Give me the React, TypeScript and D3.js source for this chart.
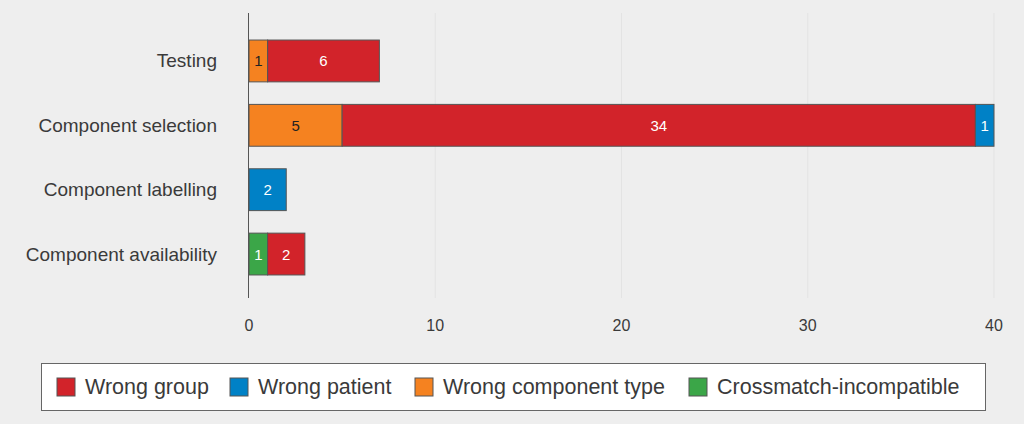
import React, { useMemo } from "react";
import * as d3 from "d3";

const WIDTH = 1024;
const HEIGHT = 424;
const FONT = "'Liberation Sans', Arial, Helvetica, sans-serif";

// categories, top to bottom
const categories = [
  "Testing",
  "Component selection",
  "Component labelling",
  "Component availability",
];

// series in stacking order (left to right inside a bar)
const crossmatch = [0, 0, 0, 1];
const wrongType = [1, 5, 0, 0];
const wrongGroup = [6, 34, 0, 2];
const wrongPatient = [0, 1, 2, 0];

const xTicks = [0, 10, 20, 30, 40];

const SERIES = [
  { key: "crossmatch", name: "Crossmatch-incompatible", values: crossmatch, color: "#3ba648", text: "#ffffff" },
  { key: "type", name: "Wrong component type", values: wrongType, color: "#f58220", text: "#222222" },
  { key: "group", name: "Wrong group", values: wrongGroup, color: "#d2232a", text: "#ffffff" },
  { key: "patient", name: "Wrong patient", values: wrongPatient, color: "#0081c6", text: "#ffffff" },
];

// legend order as in the original
const legendOrder = ["group", "patient", "type", "crossmatch"];

export default function App() {
  const xScale = useMemo(
    () => d3.scaleLinear().domain([0, 40]).range([249, 994]),
    []
  );
  const yScale = useMemo(
    () => d3.scaleBand().domain(categories).range([17.5, 297.5]).padding(0.35),
    []
  );

  const rows = categories.map((c, i) => {
    const row: any = { category: c };
    SERIES.forEach((s) => (row[s.key] = s.values[i]));
    return row;
  });
  const stacked = d3.stack<any>().keys(SERIES.map((s) => s.key))(rows);

  const bars = stacked.map((layer, li) => {
    const s = SERIES[li];
    return layer.map((d, i) => {
      const v = d[1] - d[0];
      if (v <= 0) return null;
      const y = yScale(categories[i])!;
      const x0 = xScale(d[0]);
      const x1 = xScale(d[1]);
      return (
        <g key={`${s.key}-${i}`}>
          <rect
            x={x0}
            y={y}
            width={x1 - x0}
            height={yScale.bandwidth()}
            fill={s.color}
            stroke="#555"
            strokeWidth={1}
          />
          <text
            x={(x0 + x1) / 2}
            y={y + yScale.bandwidth() / 2}
            textAnchor="middle"
            dominantBaseline="central"
            fontSize={15}
            fill={s.text}
          >
            {v}
          </text>
        </g>
      );
    });
  });

  const grid = xTicks.slice(1).map((t) => (
    <line
      key={t}
      x1={xScale(t)}
      x2={xScale(t)}
      y1={13}
      y2={298}
      stroke="#e3e3e3"
      strokeWidth={1}
    />
  ));

  const tickLabels = xTicks.map((t) => (
    <text
      key={t}
      x={xScale(t)}
      y={325}
      textAnchor="middle"
      dominantBaseline="central"
      fontSize={16}
      fill="#3a3a3a"
    >
      {t}
    </text>
  ));

  const catLabels = categories.map((c) => (
    <text
      key={c}
      x={217}
      y={yScale(c)! + yScale.bandwidth() / 2}
      textAnchor="end"
      dominantBaseline="central"
      fontSize={19}
      fill="#3a3a3a"
    >
      {c}
    </text>
  ));

  // legend item positions (swatch x)
  const legendX = [57, 230, 415, 689];
  const legend = legendOrder.map((k, i) => {
    const s = SERIES.find((d) => d.key === k)!;
    return (
      <g key={k} transform={`translate(${legendX[i]},378)`}>
        <rect width={18} height={18} fill={s.color} stroke="#555" strokeWidth={1} />
        <text x={28} y={9} dominantBaseline="central" fontSize={21.5} fill="#3a3a3a">
          {s.name}
        </text>
      </g>
    );
  });

  return (
    <svg
      width={WIDTH}
      height={HEIGHT}
      style={{ position: "absolute", left: 0, top: 0, background: "#eeeeee" }}
      fontFamily={FONT}
    >
      {grid}
      {bars}
      <line x1={248.5} x2={248.5} y1={13} y2={298} stroke="#555" strokeWidth={1} />
      {tickLabels}
      {catLabels}
      <rect x={41.5} y={363.5} width={944} height={47} fill="#fff" stroke="#666" strokeWidth={1} />
      {legend}
    </svg>
  );
}
